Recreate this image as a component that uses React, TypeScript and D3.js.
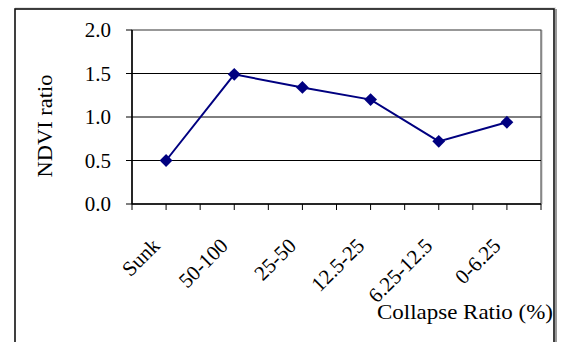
import React from "react";
import * as d3 from "d3";

// Collapse-ratio classes and their NDVI ratio
const categories = ["Sunk", "50-100", "25-50", "12.5-25", "6.25-12.5", "0-6.25"];
const ndviRatio = [0.5, 1.49, 1.34, 1.2, 0.72, 0.94];
const yTicks = [0, 0.5, 1.0, 1.5, 2.0];

const W = 562;
const H = 342;
const plot = { left: 132, right: 541, top: 30, bottom: 204 };
const NAVY = "#000080";
const serif: React.CSSProperties = { fontFamily: '"Liberation Serif", "Times New Roman", Times, serif' };

export default function App() {
  const x = d3
    .scaleBand<string>()
    .domain(categories)
    .range([plot.left, plot.right]);
  const y = d3.scaleLinear().domain([0, 2]).range([plot.bottom, plot.top]);

  const cx = (c: string) => (x(c) ?? 0) + x.bandwidth() / 2;

  // tick marks at every band edge and band centre
  const xTickPos: number[] = [];
  categories.forEach((c) => {
    xTickPos.push(x(c) ?? 0);
    xTickPos.push(cx(c));
  });
  xTickPos.push(plot.right);

  const line = d3
    .line<number>()
    .x((_, i) => cx(categories[i]))
    .y((v) => y(v));

  const diamond = d3.symbol().type(d3.symbolDiamond2).size(105)();

  return (
    <svg
      width={W}
      height={H}
      style={{ position: "absolute", left: 0, top: 0, background: "#fff" }}
    >
      {/* chart frame */}
      <line x1={15} y1={8} x2={556} y2={8} stroke="#ccc" strokeWidth={1} />
      <line x1={556} y1={9} x2={556} y2={H} stroke="#999" strokeWidth={2} />
      <rect x={15} y={9} width={539} height={400} fill="none" stroke="#111" strokeWidth={1.6} />

      {/* plot-area border */}
      <line x1={plot.right + 1} y1={plot.top} x2={plot.right + 1} y2={plot.bottom} stroke="#bbb" strokeWidth={1} />
      <rect
        x={plot.left}
        y={plot.top}
        width={plot.right - plot.left}
        height={plot.bottom - plot.top}
        fill="none"
        stroke="#333"
        strokeWidth={1}
      />

      {/* horizontal gridlines */}
      {yTicks.slice(1, -1).map((t) => (
        <line key={t} x1={plot.left} x2={plot.right} y1={y(t)} y2={y(t)} stroke="#000" strokeWidth={1} />
      ))}

      {/* y axis */}
      <line x1={plot.left} x2={plot.left} y1={plot.top} y2={plot.bottom} stroke="#000" strokeWidth={1.5} />
      {yTicks.map((t) => (
        <g key={t}>
          <line x1={plot.left - 6} x2={plot.left} y1={y(t)} y2={y(t)} stroke="#000" strokeWidth={1} />
          <text x={111} y={y(t)} dy="0.35em" textAnchor="end" fontSize={21} fill="#000" style={serif}>
            {t.toFixed(1)}
          </text>
        </g>
      ))}
      <text
        transform={`translate(52, 126) rotate(-90)`}
        textAnchor="middle"
        fontSize={22}
        fill="#000"
        style={serif}
        textLength={103}
        lengthAdjust="spacingAndGlyphs"
      >
        NDVI ratio
      </text>

      {/* x axis */}
      <line x1={plot.left} x2={plot.right} y1={plot.bottom} y2={plot.bottom} stroke="#000" strokeWidth={1.5} />
      {xTickPos.map((p, i) => (
        <line key={i} x1={p} x2={p} y1={plot.bottom} y2={plot.bottom + 6} stroke="#000" strokeWidth={1} />
      ))}
      {categories.map((c) => (
        <text
          key={c}
          transform={`translate(${cx(c) - 5}, 247) rotate(-45)`}
          textAnchor="end"
          fontSize={21}
          fill="#000"
          style={serif}
        >
          {c}
        </text>
      ))}
      <text
        x={553}
        y={319}
        textAnchor="end"
        fontSize={22}
        fill="#000"
        style={serif}
        textLength={176}
        lengthAdjust="spacingAndGlyphs"
      >
        Collapse Ratio (%)
      </text>

      {/* series */}
      <path d={line(ndviRatio) ?? ""} fill="none" stroke={NAVY} strokeWidth={2} />
      {ndviRatio.map((v, i) => (
        <path key={i} d={diamond ?? ""} transform={`translate(${cx(categories[i])}, ${y(v)})`} fill={NAVY} />
      ))}
    </svg>
  );
}
